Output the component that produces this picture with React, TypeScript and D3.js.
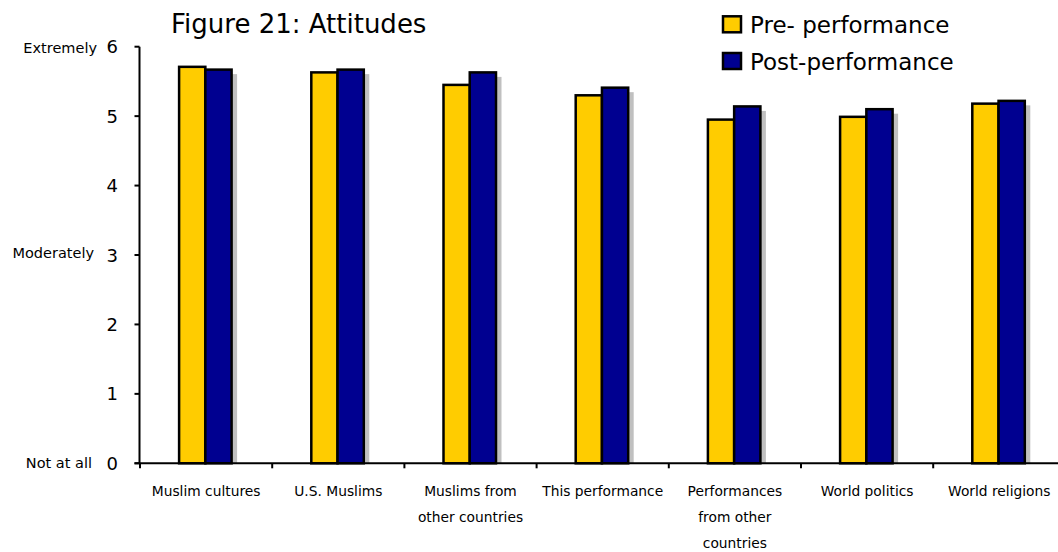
import React from "react";
import * as d3 from "d3";

// Survey items (each label split into its printed lines)
const categories: string[][] = [
  ["Muslim cultures"],
  ["U.S. Muslims"],
  ["Muslims from", "other countries"],
  ["This performance"],
  ["Performances", "from other", "countries"],
  ["World politics"],
  ["World religions"],
];

const preValues = [5.71, 5.63, 5.45, 5.3, 4.95, 4.99, 5.18];
const postValues = [5.67, 5.67, 5.63, 5.41, 5.14, 5.1, 5.22];

const seriesNames = ["Pre- performance", "Post-performance"];
const seriesColors = ["#ffcc00", "#000090"];

const yTicks = [0, 1, 2, 3, 4, 5, 6];
const anchorLabels = [
  { value: 6, text: "Extremely", right: 97, dy: 6.3 },
  { value: 3, text: "Moderately", right: 94, dy: 3.4 },
  { value: 0, text: "Not at all", right: 92, dy: 5 },
];

const W = 1058;
const H = 552;
const FONT = "'DejaVu Sans', Verdana, sans-serif";

export default function App() {
  const keys = categories.map((c) => c.join(" "));
  const left = 140;
  const step = 132.2;

  const x = d3
    .scaleBand<string>()
    .domain(keys)
    .range([left, left + step * keys.length])
    .padding(0);

  const inner = d3.scaleBand<string>().domain(["pre", "post"]).range([-27, 25.5]).padding(0);

  const y = d3.scaleLinear().domain([0, 6]).range([463.3, 46.7]);

  const bw = inner.bandwidth();
  const series = [preValues, postValues];
  const seriesKeys = ["pre", "post"];

  return (
    <svg
      width={W}
      height={H}
      style={{ position: "absolute", left: 0, top: 0, background: "#fff" }}
      fontFamily={FONT}
    >
      {/* title */}
      <text x={171} y={33.3} fontSize={26} fill="#000">
        Figure 21: Attitudes
      </text>

      {/* legend */}
      {seriesNames.map((name, i) => (
        <g key={name}>
          <rect
            x={723}
            y={16.3 + i * 36.7}
            width={18}
            height={16}
            fill={seriesColors[i]}
            stroke="#000"
            strokeWidth={2.5}
          />
          <text x={750} y={33 + i * 37} fontSize={23} fill="#000">
            {name}
          </text>
        </g>
      ))}

      {/* shadows */}
      {keys.map((k, ci) => {
        const c = (x(k) as number) + x.bandwidth() / 2;
        return seriesKeys.map((s, si) => {
          const v = series[si][ci];
          const top = y(v) + 4.5;
          return (
            <rect
              key={`sh-${k}-${s}`}
              x={c + (inner(s) as number) + 5.5}
              y={top}
              width={bw}
              height={y(0) - top}
              fill="#c0c0c0"
            />
          );
        });
      })}

      {/* bars */}
      {keys.map((k, ci) => {
        const c = (x(k) as number) + x.bandwidth() / 2;
        return seriesKeys.map((s, si) => {
          const v = series[si][ci];
          return (
            <rect
              key={`bar-${k}-${s}`}
              x={c + (inner(s) as number)}
              y={y(v)}
              width={bw}
              height={y(0) - y(v)}
              fill={seriesColors[si]}
              stroke="#000"
              strokeWidth={2.5}
            />
          );
        });
      })}

      {/* y axis */}
      <line x1={139.5} x2={139.5} y1={y(6)} y2={y(0)} stroke="#000" strokeWidth={2} />
      {yTicks.map((t) => (
        <g key={`yt-${t}`}>
          <line x1={134.5} x2={139.5} y1={y(t)} y2={y(t)} stroke="#000" strokeWidth={2} />
          <text x={118} y={y(t) + 6.5} fontSize={18} textAnchor="end" fill="#000">
            {t}
          </text>
        </g>
      ))}
      {anchorLabels.map((a) => (
        <text
          key={a.text}
          x={a.right}
          y={y(a.value) + a.dy}
          fontSize={14.5}
          textAnchor="end"
          fill="#000"
        >
          {a.text}
        </text>
      ))}

      {/* x axis */}
      <line x1={134.5} x2={W} y1={y(0)} y2={y(0)} stroke="#000" strokeWidth={2} />
      {d3.range(keys.length + 1).map((i) => {
        const tx = i < keys.length ? (x(keys[i]) as number) : (x.range()[1] as number);
        return (
          <line
            key={`xt-${i}`}
            x1={tx}
            x2={tx}
            y1={y(0)}
            y2={y(0) + 5}
            stroke="#000"
            strokeWidth={2}
          />
        );
      })}
      {categories.map((lines, ci) => {
        const c = (x(keys[ci]) as number) + x.bandwidth() / 2;
        return (
          <text key={`xl-${ci}`} textAnchor="middle" fontSize={13.8} fill="#000">
            {lines.map((ln, li) => (
              <tspan key={li} x={c} y={496 + li * 26.2}>
                {ln}
              </tspan>
            ))}
          </text>
        );
      })}
    </svg>
  );
}
